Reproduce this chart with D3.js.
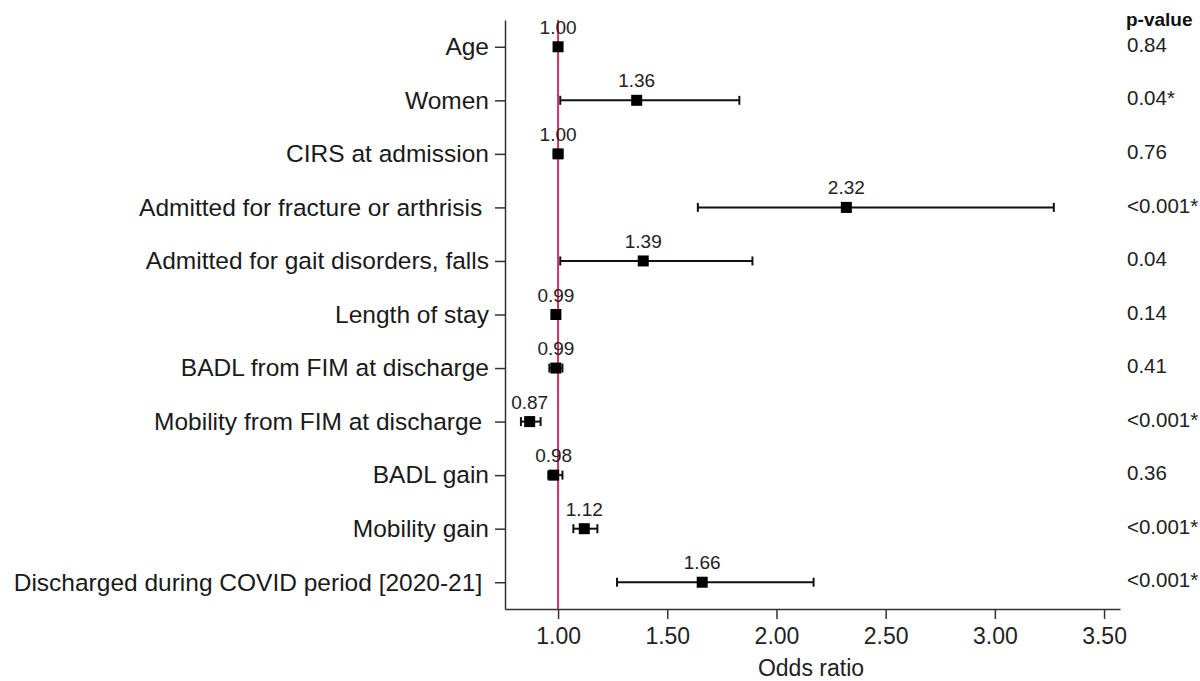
<!DOCTYPE html>
<html>
<head>
<meta charset="utf-8">
<script src="https://cdn.jsdelivr.net/npm/d3@7"></script>
<style>
  body { margin: 0; background: #fff; }
  svg { display: block; font-family: "Liberation Sans", Arial, sans-serif; }
  .ylab text { white-space: pre; }
</style>
</head>
<body>
<script>
const width = 1200, height = 681;

// rows, top to bottom (some labels carry a trailing space like the original)
const categories = [
    'Age', 'Women', 'CIRS at admission', 'Admitted for fracture or arthrisis ',
    'Admitted for gait disorders, falls', 'Length of stay', 'BADL from FIM at discharge',
    'Mobility from FIM at discharge ', 'BADL gain', 'Mobility gain',
    'Discharged during COVID period [2020-21] '
];
const oddsRatio = [1.00, 1.36, 1.00, 2.32, 1.39, 0.99, 0.99, 0.87, 0.98, 1.12, 1.66];
const ciLow     = [1.00, 1.01, 0.98, 1.64, 1.01, 0.99, 0.96, 0.83, 0.955, 1.07, 1.27];
const ciHigh    = [1.00, 1.83, 1.02, 3.27, 1.89, 0.99, 1.02, 0.92, 1.02, 1.18, 2.17];
const pValues   = ['0.84', '0.04*', '0.76', '<0.001*', '0.04', '0.14', '0.41',
    '<0.001*', '0.36', '<0.001*', '<0.001*'];
const xTicks = [1.00, 1.50, 2.00, 2.50, 3.00, 3.50];

const rows = categories.map((c, i) => ({
    label: c, or: oddsRatio[i], lo: ciLow[i], hi: ciHigh[i], p: pValues[i]
}));

const svg = d3.select('body')
    .append('svg')
    .attr('width', width)
    .attr('height', height);

const scaleX = d3.scaleLinear()
    .domain([0.757, 3.573])
    .range([505, 1120]);

const scaleY = d3.scalePoint()
    .domain(categories)
    .range([20, 609])
    .padding(0.5);

const baseY = 609, axisX = 505;

// x axis
const gX = svg.append('g')
    .attr('transform', 'translate(0, ' + baseY + ')')
    .call(d3.axisBottom(scaleX)
        .tickValues(xTicks)
        .tickFormat(d3.format('.2f'))
        .tickSize(10)
        .tickSizeOuter(0));
gX.selectAll('text')
    .attr('font-size', 23)
    .attr('font-family', '"Liberation Sans", Arial, sans-serif')
    .attr('fill', '#222')
    .attr('dy', '0.95em');

// y axis
const gY = svg.append('g')
    .attr('class', 'ylab')
    .attr('transform', 'translate(' + axisX + ', 0)')
    .call(d3.axisLeft(scaleY)
        .tickSize(10)
        .tickPadding(6)
        .tickSizeOuter(0));
gY.selectAll('text')
    .attr('font-size', 24.5)
    .attr('font-family', '"Liberation Sans", Arial, sans-serif')
    .attr('fill', '#1a1a1a');

svg.selectAll('.domain, .tick line')
    .attr('stroke', '#333')
    .attr('stroke-width', 1.5);

// x axis title
svg.append('text')
    .attr('x', 811)
    .attr('y', 676)
    .attr('text-anchor', 'middle')
    .attr('font-size', 23)
    .attr('fill', '#222')
    .text('Odds ratio');

// reference line at OR = 1
svg.append('line')
    .attr('x1', scaleX(1)).attr('x2', scaleX(1))
    .attr('y1', 20).attr('y2', baseY)
    .attr('stroke', '#d0306a')
    .attr('stroke-width', 2);

const marks = svg.append('g');

// confidence intervals
marks.selectAll('line.ci')
    .data(rows)
    .enter()
    .append('line')
    .attr('class', 'ci')
    .attr('x1', d => scaleX(d.lo))
    .attr('x2', d => scaleX(d.hi))
    .attr('y1', d => scaleY(d.label))
    .attr('y2', d => scaleY(d.label))
    .attr('stroke', '#111')
    .attr('stroke-width', 2);

['lo', 'hi'].forEach(k => {
    marks.selectAll('line.cap-' + k)
        .data(rows)
        .enter()
        .append('line')
        .attr('class', 'cap-' + k)
        .attr('x1', d => scaleX(d[k]))
        .attr('x2', d => scaleX(d[k]))
        .attr('y1', d => scaleY(d.label) - 4.5)
        .attr('y2', d => scaleY(d.label) + 4.5)
        .attr('stroke', '#111')
        .attr('stroke-width', 2);
});

// point estimates
const sq = 11;
marks.selectAll('rect')
    .data(rows)
    .enter()
    .append('rect')
    .attr('x', d => scaleX(d.or) - sq / 2)
    .attr('y', d => scaleY(d.label) - sq / 2)
    .attr('width', sq)
    .attr('height', sq)
    .attr('fill', '#000');

// value labels above points
marks.selectAll('text.val')
    .data(rows)
    .enter()
    .append('text')
    .attr('class', 'val')
    .attr('x', d => scaleX(d.or))
    .attr('y', d => scaleY(d.label) - 13)
    .attr('text-anchor', 'middle')
    .attr('font-size', 19)
    .attr('fill', '#222')
    .text(d => d3.format('.2f')(d.or));

// p-value column
svg.append('text')
    .attr('x', 1126)
    .attr('y', 26)
    .attr('font-size', 19)
    .attr('font-weight', 'bold')
    .attr('fill', '#111')
    .text('p-value');

svg.selectAll('text.pv')
    .data(rows)
    .enter()
    .append('text')
    .attr('class', 'pv')
    .attr('x', 1127)
    .attr('y', d => scaleY(d.label))
    .attr('dy', '0.25em')
    .attr('font-size', 20.5)
    .attr('fill', '#222')
    .text(d => d.p);
</script>
</body>
</html>
